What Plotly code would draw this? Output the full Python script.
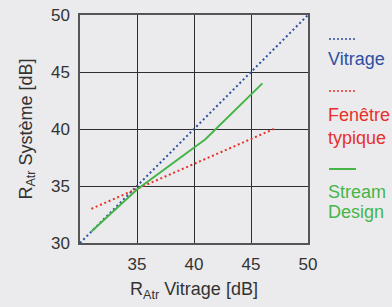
import plotly.graph_objects as go

# Data
vitrage_x = [30, 50]
vitrage_y = [30, 50]
fenetre_x = [31, 47]
fenetre_y = [33, 40]
stream_x = [31, 35, 41, 46]
stream_y = [31, 34.7, 39.1, 44]
x_ticks = [35, 40, 45, 50]
y_ticks = [30, 35, 40, 45, 50]

BLUE = "#2f4f9f"
RED = "#e8302a"
GREEN = "#46b548"
BG = "#ebebee"
TXT = "#333333"
FONT = "Liberation Sans, Arial, sans-serif"

fig = go.Figure()
fig.add_trace(go.Scatter(x=vitrage_x, y=vitrage_y, mode="lines",
                         line=dict(color=BLUE, width=2, dash="2px,2.7px"), name="Vitrage"))
fig.add_trace(go.Scatter(x=fenetre_x, y=fenetre_y, mode="lines",
                         line=dict(color=RED, width=2, dash="2px,2.7px"), name="Fenêtre typique"))
fig.add_trace(go.Scatter(x=stream_x, y=stream_y, mode="lines",
                         line=dict(color=GREEN, width=2), name="Stream Design"))

axis_common = dict(
    showgrid=True, gridcolor="#2e2e2e", gridwidth=1.2,
    showline=True, linecolor="#555555", linewidth=1.5, mirror=True,
    zeroline=False, ticks="", tickfont=dict(size=17, color=TXT, family=FONT),
    automargin=False,
)

fig.update_xaxes(range=[30, 50], tickvals=x_ticks, ticklabelstandoff=5,
                 title=dict(text="R<sub>Atr</sub> Vitrage [dB]", font=dict(size=18, color=TXT, family=FONT), standoff=9),
                 **axis_common)
fig.update_yaxes(range=[30, 50], tickvals=y_ticks, ticklabelstandoff=5,
                 title=dict(text="R<sub>Atr</sub> Système [dB]", font=dict(size=18, color=TXT, family=FONT), standoff=14),
                 **axis_common)

# Legend drawn manually on the right
shapes = []
annotations = []
legend_items = [
    (39, BLUE, "dot", [("Vitrage", 59)]),
    (91, RED, "dot", [("Fenêtre", 115), ("typique", 138)]),
    (169, GREEN, "solid", [("Stream", 192), ("Design", 212)]),
]
W, H = 392, 307
T, B = 15, 64
PH = H - T - B
for ys, col, dash, texts in legend_items:
    shapes.append(dict(type="line", xref="paper", yref="paper",
                       x0=(329 - 80) / 228, x1=(356 - 80) / 228,
                       y0=(H - B - ys) / PH, y1=(H - B - ys) / PH,
                       line=dict(color=col, width=2 if dash == "solid" else 1.5,
                                 dash="2px,2px" if dash == "dot" else "solid")))
    for t, yc in texts:
        annotations.append(dict(text=t, xref="paper", yref="paper",
                                x=(326 - 80) / 228, y=(H - B - yc) / PH,
                                xanchor="left", yanchor="middle", showarrow=False,
                                font=dict(size=18, color=col, family=FONT)))

fig.update_layout(
    width=W, height=H,
    margin=dict(l=80, r=84, t=T, b=B),
    paper_bgcolor=BG, plot_bgcolor=BG,
    showlegend=False,
    shapes=shapes, annotations=annotations,
    font=dict(family=FONT, color=TXT),
)

post = ("document.body.style.margin='0';document.body.style.background='%s';"
        "var d=document.getElementById('{plot_id}');d.style.position='fixed';"
        "d.style.left='0px';d.style.top='0px';") % BG
fig.write_html("out.html", post_script=post, config={"displayModeBar": False})
